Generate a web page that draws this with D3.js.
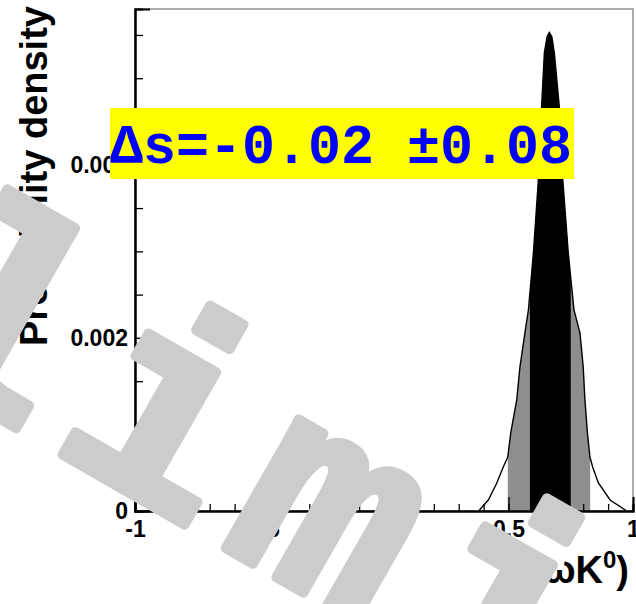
<!DOCTYPE html>
<html>
<head>
<meta charset="utf-8">
<script src="https://cdn.jsdelivr.net/npm/d3@7"></script>
<style>
  body { margin: 0; background: #fff; }
</style>
</head>
<body>
<div id="chart"></div>
<script>
// outline of the probability density
var densX = [0.380, 0.419, 0.453, 0.479, 0.497, 0.509, 0.533, 0.546, 0.566, 0.580, 0.600, 0.620, 0.633, 0.644, 0.655, 0.664,
             0.674, 0.684, 0.704, 0.718, 0.740, 0.763, 0.787, 0.800, 0.807, 0.817, 0.827, 0.838, 0.861, 0.908, 0.975];
var densY = [0, 0.000127, 0.000324, 0.000509, 0.000624, 0.000902, 0.001283, 0.001665, 0.002058, 0.002324, 0.002983, 0.003827, 0.004671, 0.005295, 0.005480, 0.005529,
             0.005480, 0.005295, 0.004671, 0.003827, 0.002983, 0.002324, 0.002058, 0.001665, 0.001283, 0.000902, 0.000624, 0.000509, 0.000324, 0.000127, 0];
// 68% and 95% intervals
var band68 = [0.586, 0.750];
var band95 = [0.497, 0.828];
var xMajor = [-1, -0.5, 0, 0.5, 1];
var yMajor = [0, 0.002, 0.004];
var deltaS = [-0.02, 0.08];

var SANS = "'Liberation Sans', Arial, sans-serif";
var MONO = "'Liberation Mono', 'Courier New', monospace";

var W = 636, H = 604;
var svg = d3.select("#chart").append("svg")
  .attr("width", W).attr("height", H);

var xScale = d3.scaleLinear().domain([-1, 1]).range([135, 633]);
var yScale = d3.scaleLinear().domain([0, 0.0058]).range([511, 9]);

var pts = densX.map(function(d, i) { return [d, densY[i]]; });

var area = d3.area()
  .x(function(d) { return xScale(d[0]); })
  .y0(yScale(0))
  .y1(function(d) { return yScale(d[1]); });
var line = d3.line()
  .x(function(d) { return xScale(d[0]); })
  .y(function(d) { return yScale(d[1]); });

// clip regions for the bands
var defs = svg.append("defs");
[["c95", band95], ["c68", band68]].forEach(function(c) {
  defs.append("clipPath").attr("id", c[0]).append("rect")
    .attr("x", xScale(c[1][0])).attr("y", 0)
    .attr("width", xScale(c[1][1]) - xScale(c[1][0])).attr("height", H);
});

svg.append("path").datum(pts).attr("d", area)
  .attr("fill", "#8e8e8e").attr("clip-path", "url(#c95)");
svg.append("path").datum(pts).attr("d", area)
  .attr("fill", "#000").attr("clip-path", "url(#c68)");
svg.append("path").datum(pts).attr("d", line)
  .attr("fill", "none").attr("stroke", "#000").attr("stroke-width", 1.4);

// frame
svg.append("rect")
  .attr("x", xScale(-1)).attr("y", yScale(0.0058))
  .attr("width", xScale(1) - xScale(-1)).attr("height", yScale(0) - yScale(0.0058))
  .attr("fill", "none").attr("stroke", "#777").attr("stroke-width", 1.2);

// axes
var fmt = function(d) { return String(d); };
var xMinor = d3.range(-10, 11).map(function(i) { return i / 10; });
var yMinor = d3.range(0, 12).map(function(i) { return i * 0.0005; });

var gxm = svg.append("g").attr("transform", "translate(0," + yScale(0) + ")")
  .call(d3.axisBottom(xScale).tickValues(xMinor).tickSize(-7).tickFormat(""));
var gx = svg.append("g").attr("transform", "translate(0," + yScale(0) + ")")
  .call(d3.axisBottom(xScale).tickValues(xMajor).tickSize(-14).tickPadding(10).tickFormat(fmt));
var gym = svg.append("g").attr("transform", "translate(" + xScale(-1) + ",0)")
  .call(d3.axisLeft(yScale).tickValues(yMinor).tickSize(-8).tickFormat(""));
var gy = svg.append("g").attr("transform", "translate(" + xScale(-1) + ",0)")
  .call(d3.axisLeft(yScale).tickValues(yMajor).tickSize(-15).tickPadding(7).tickFormat(fmt));

[gxm, gx, gym, gy].forEach(function(g) {
  g.selectAll(".domain").attr("stroke", "#000").attr("stroke-width", 2);
  g.selectAll(".tick line").attr("stroke", "#000").attr("stroke-width", 1.3);
  g.selectAll("text").attr("fill", "#000")
    .style("font-family", SANS).style("font-weight", "bold").style("font-size", "23px");
});

// axis titles
svg.append("text")
  .attr("transform", "translate(47,346) rotate(-90)")
  .style("font-family", SANS).style("font-weight", "bold").style("font-size", "38px")
  .text("Probability density");

var xt = svg.append("text")
  .attr("x", 629).attr("y", 583)
  .attr("text-anchor", "end")
  .style("font-family", SANS).style("font-weight", "bold").style("font-size", "38px");
xt.append("tspan").text("S(\u03c9K");
xt.append("tspan").style("font-size", "24px").attr("dy", -15).text("0");
xt.append("tspan").attr("dy", 15).text(")");

// result box
svg.append("rect")
  .attr("x", 110).attr("y", 108).attr("width", 464).attr("height", 71)
  .attr("fill", "#ffff00");
svg.append("text")
  .attr("x", 110).attr("y", 163)
  .style("font-family", MONO).style("font-weight", "bold").style("font-size", "55px")
  .attr("fill", "#0000ff")
  .text("\u0394s=" + deltaS[0].toFixed(2) + " \u00b1" + deltaS[1].toFixed(2));

// watermark
svg.append("text")
  .attr("transform", "translate(-625,61) rotate(29.8)")
  .style("font-family", MONO).style("font-weight", "bold").style("font-size", "280px")
  .style("letter-spacing", "26px")
  .attr("fill", "#cccccc")
  .attr("stroke", "#cccccc")
  .attr("stroke-width", 10)
  .attr("stroke-linejoin", "round")
  .text("Preliminary");
</script>
</body>
</html>
